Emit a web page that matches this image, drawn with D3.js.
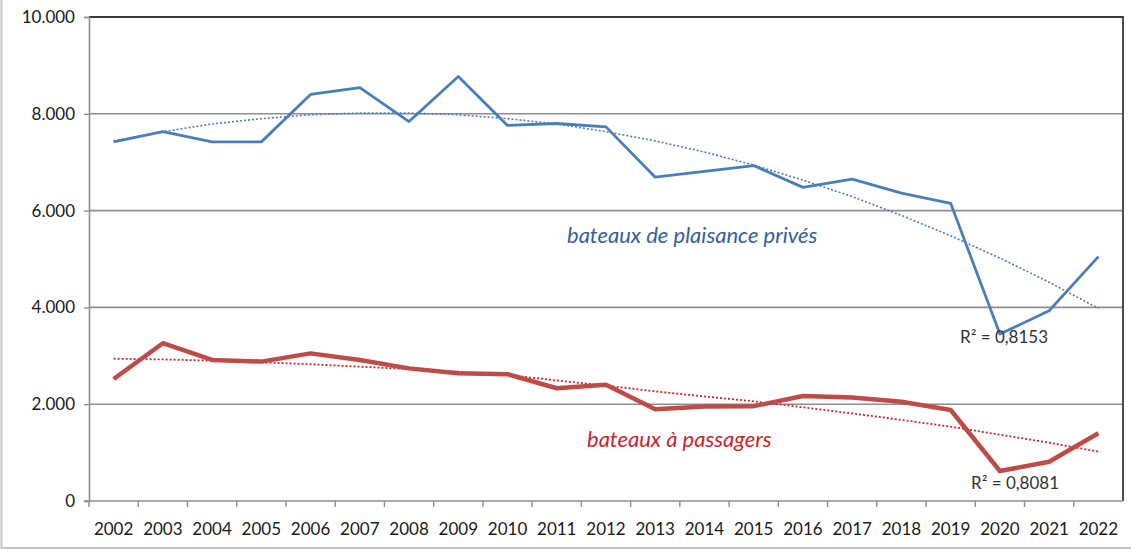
<!DOCTYPE html>
<html>
<head>
<meta charset="utf-8">
<script src="https://cdn.jsdelivr.net/npm/d3@7"></script>
<style>
  body { margin: 0; background: #fff; }
  svg { display: block; font-family: Lato, "Open Sans", sans-serif; }
</style>
</head>
<body>
<div id="chart"></div>
<script>
// years on the x axis
var years = ["2002", "2003", "2004", "2005", "2006", "2007", "2008", "2009", "2010", "2011", "2012",
             "2013", "2014", "2015", "2016", "2017", "2018", "2019", "2020", "2021", "2022"];

// bateaux de plaisance privés
var plaisance = [7420, 7630, 7420, 7420, 8400, 8540, 7840, 8770, 7760, 7800, 7730,
                 6690, 6810, 6930, 6480, 6650, 6360, 6150, 3450, 3930, 5050];
// polynomial trend
var plaisanceTrend = [7440, 7630, 7790, 7900, 7980, 8015, 8015, 7980, 7900, 7790, 7630,
                      7440, 7210, 6940, 6630, 6290, 5900, 5480, 5020, 4520, 3980];

// bateaux à passagers
var passagers = [2520, 3260, 2915, 2880, 3050, 2915, 2740, 2640, 2620, 2330, 2400,
                 1895, 1950, 1960, 2170, 2140, 2050, 1880, 620, 810, 1400];
var passagersTrend = [2940, 2925, 2900, 2865, 2825, 2775, 2725, 2670, 2605, 2490, 2385,
                      2265, 2160, 2060, 1935, 1810, 1675, 1535, 1370, 1205, 1020];

var yTicks = [0, 2000, 4000, 6000, 8000, 10000];

var svgWidth = 1131;
var svgHeight = 553;
var margin = { top: 17, right: 8, bottom: 52, left: 89 };
var chartWidth = svgWidth - margin.left - margin.right;
var chartHeight = svgHeight - margin.top - margin.bottom;

var svg = d3.select("#chart")
  .append("svg")
  .attr("width", svgWidth)
  .attr("height", svgHeight);

// outer frame of the picture
svg.append("rect")
  .attr("x", 1.5)
  .attr("y", -2)
  .attr("width", svgWidth + 4)
  .attr("height", svgHeight - 3)
  .attr("fill", "none")
  .attr("stroke", "#c4c4c4")
  .attr("stroke-width", 2);

var chartGroup = svg.append("g")
  .attr("transform", `translate(${margin.left}, ${margin.top})`);

var xScale = d3.scaleBand()
  .domain(years)
  .range([0, chartWidth])
  .padding(0);

var yScale = d3.scaleLinear()
  .domain([0, 10000])
  .range([chartHeight, 0]);

var fmt = d3.formatLocale({ decimal: ",", thousands: ".", grouping: [3], currency: ["", "€"] }).format(",d");

// gridlines
chartGroup.append("g")
  .selectAll("line")
  .data(yTicks.filter(d => d > 0 && d < 10000))
  .enter()
  .append("line")
  .attr("x1", 0)
  .attr("x2", chartWidth)
  .attr("y1", d => yScale(d))
  .attr("y2", d => yScale(d))
  .attr("stroke", "#8e8e8e")
  .attr("stroke-width", 1.6);

// plot area border (top and right are dark)
chartGroup.append("path")
  .attr("d", `M0,${yScale(10000)}H${chartWidth}V${chartHeight}`)
  .attr("fill", "none")
  .attr("stroke", "#3c3c3c")
  .attr("stroke-width", 1.8);

// y axis
var yAxis = d3.axisLeft(yScale)
  .tickValues(yTicks)
  .tickSize(5)
  .tickPadding(9)
  .tickFormat(fmt);

var yAxisGroup = chartGroup.append("g").call(yAxis);
yAxisGroup.select(".domain").attr("stroke", "#8e8e8e").attr("stroke-width", 1.6);
yAxisGroup.selectAll(".tick line").attr("stroke", "#8e8e8e").attr("stroke-width", 1.4);
yAxisGroup.selectAll("text")
  .attr("font-size", 17)
  .attr("fill", "#1a1a1a")
  .style("font-family", "Lato, sans-serif");

// x axis, ticks between the categories
var xAxisGroup = chartGroup.append("g")
  .attr("transform", `translate(0, ${chartHeight})`);

xAxisGroup.append("line")
  .attr("x1", -5)
  .attr("x2", chartWidth)
  .attr("stroke", "#8e8e8e")
  .attr("stroke-width", 1.6);

xAxisGroup.selectAll(".xtick")
  .data(years)
  .enter()
  .append("line")
  .attr("class", "xtick")
  .attr("x1", d => xScale(d))
  .attr("x2", d => xScale(d))
  .attr("y1", 0)
  .attr("y2", 6)
  .attr("stroke", "#8e8e8e")
  .attr("stroke-width", 1.4);

xAxisGroup.selectAll(".xlabel")
  .data(years)
  .enter()
  .append("text")
  .attr("class", "xlabel")
  .attr("x", d => xScale(d) + xScale.bandwidth() / 2)
  .attr("y", 34)
  .attr("text-anchor", "middle")
  .attr("font-size", 17)
  .attr("fill", "#1a1a1a")
  .text(d => d);

var line = d3.line()
  .x((d, i) => xScale(years[i]) + xScale.bandwidth() / 2)
  .y(d => yScale(d));

// trend lines (dotted)
chartGroup.append("path")
  .datum(plaisanceTrend)
  .attr("d", line)
  .attr("fill", "none")
  .attr("stroke", "#4a7ebb")
  .attr("stroke-width", 1.6)
  .attr("stroke-dasharray", "2,2");

chartGroup.append("path")
  .datum(passagersTrend)
  .attr("d", line)
  .attr("fill", "none")
  .attr("stroke", "#c8262c")
  .attr("stroke-width", 1.8)
  .attr("stroke-dasharray", "2,2");

// data lines
chartGroup.append("path")
  .datum(plaisance)
  .attr("d", line)
  .attr("fill", "none")
  .attr("stroke", "#4a7ebb")
  .attr("stroke-width", 2.8)
  .attr("stroke-linejoin", "round");

chartGroup.append("path")
  .datum(passagers)
  .attr("d", line)
  .attr("fill", "none")
  .attr("stroke", "#be4b48")
  .attr("stroke-width", 4.5)
  .attr("stroke-linejoin", "round");

// series labels
svg.append("text")
  .attr("x", 567)
  .attr("y", 243)
  .attr("font-size", 22)
  .attr("font-style", "italic")
  .attr("fill", "#36609a")
  .text("bateaux de plaisance privés");

svg.append("text")
  .attr("x", 587)
  .attr("y", 447)
  .attr("font-size", 22)
  .attr("font-style", "italic")
  .attr("fill", "#c8262c")
  .text("bateaux à passagers");

// R² labels
svg.append("text")
  .attr("x", 960)
  .attr("y", 343)
  .attr("font-size", 17)
  .attr("fill", "#333")
  .text("R² = 0,8153");

svg.append("text")
  .attr("x", 971)
  .attr("y", 489)
  .attr("font-size", 17)
  .attr("fill", "#333")
  .text("R² = 0,8081");
</script>
</body>
</html>
